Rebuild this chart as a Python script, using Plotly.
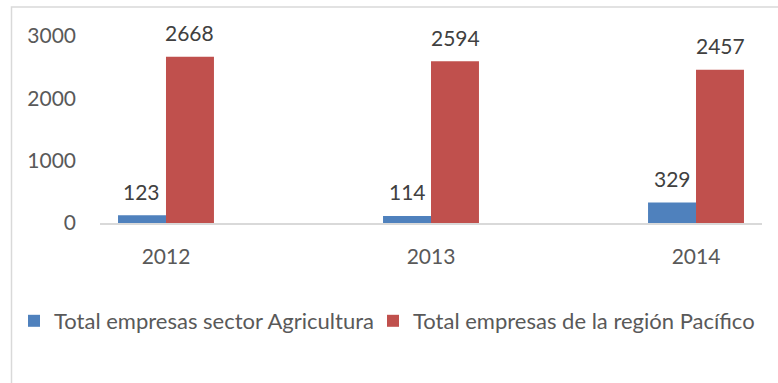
import plotly.graph_objects as go

# Company counts per year
years = ["2012", "2013", "2014"]
agricultura = [123, 114, 329]
pacifico = [2668, 2594, 2457]
series_names = ["Total empresas sector Agricultura", "Total empresas de la región Pacífico"]
series_colors = ["#4F81BD", "#C0504D"]

W, H = 778, 383
M_L, M_R, M_T, M_B = 100, 16, 36, 160
plot_w = W - M_L - M_R
plot_h = H - M_T - M_B

FONT = "Lato"
TICK_COLOR = "#595959"
LABEL_COLOR = "#404040"


def px_to_paper_x(px):
    return (px - M_L) / plot_w


def px_to_paper_y(py):
    return (H - M_B - py) / plot_h


fig = go.Figure()
legend_ids = ["legend", "legend2"]
for name, vals, color, lg in zip(series_names, [agricultura, pacifico], series_colors, legend_ids):
    fig.add_trace(go.Bar(
        x=years, y=vals, name=name, legend=lg,
        marker=dict(color=color, line=dict(width=0)),
        hoverinfo="skip",
    ))

# Value labels above each bar, offset to the bar's slot in the group
for vals, dx in [(agricultura, -24), (pacifico, 24)]:
    for i, v in enumerate(vals):
        fig.add_annotation(
            x=i, y=v, text=str(v), showarrow=False,
            xref="x", yref="y", xshift=dx, yshift=24,
            yanchor="middle", xanchor="center",
            font=dict(family=FONT, size=21, color=LABEL_COLOR),
        )

# Light frame around the chart area
fig.add_shape(
    type="rect", xref="paper", yref="paper",
    x0=px_to_paper_x(11.5), x1=px_to_paper_x(800),
    y0=px_to_paper_y(420), y1=px_to_paper_y(7),
    line=dict(color="#d9d9d9", width=1.5), fillcolor="rgba(0,0,0,0)",
    layer="below",
)

legend_style = dict(
    orientation="h", xanchor="left", yanchor="middle",
    y=px_to_paper_y(321),
    font=dict(family=FONT, size=22, color=TICK_COLOR),
    bgcolor="rgba(0,0,0,0)",
    itemclick=False, itemdoubleclick=False,
)

fig.update_layout(
    width=W, height=H,
    margin=dict(l=M_L, r=M_R, t=M_T, b=M_B, pad=0, autoexpand=False),
    paper_bgcolor="white", plot_bgcolor="white",
    barmode="group", bargap=0.638, bargroupgap=0,
    font=dict(family=FONT, size=21, color=TICK_COLOR),
    showlegend=True,
    legend=dict(x=px_to_paper_x(14), **legend_style),
    legend2=dict(x=px_to_paper_x(373), **legend_style),
    xaxis=dict(
        type="category", range=[-0.249, 2.249],
        showline=True, linecolor="#d9d9d9", linewidth=1.5,
        showgrid=False, zeroline=False, ticks="",
        ticklabelstandoff=14,
        tickfont=dict(family=FONT, size=21, color=TICK_COLOR),
    ),
    yaxis=dict(
        range=[0, 3000], tickvals=[0, 1000, 2000, 3000],
        showline=False, showgrid=False, zeroline=False, ticks="",
        ticklabelstandoff=23,
        tickfont=dict(family=FONT, size=21, color=TICK_COLOR),
    ),
)

fig.write_html("out.html")
